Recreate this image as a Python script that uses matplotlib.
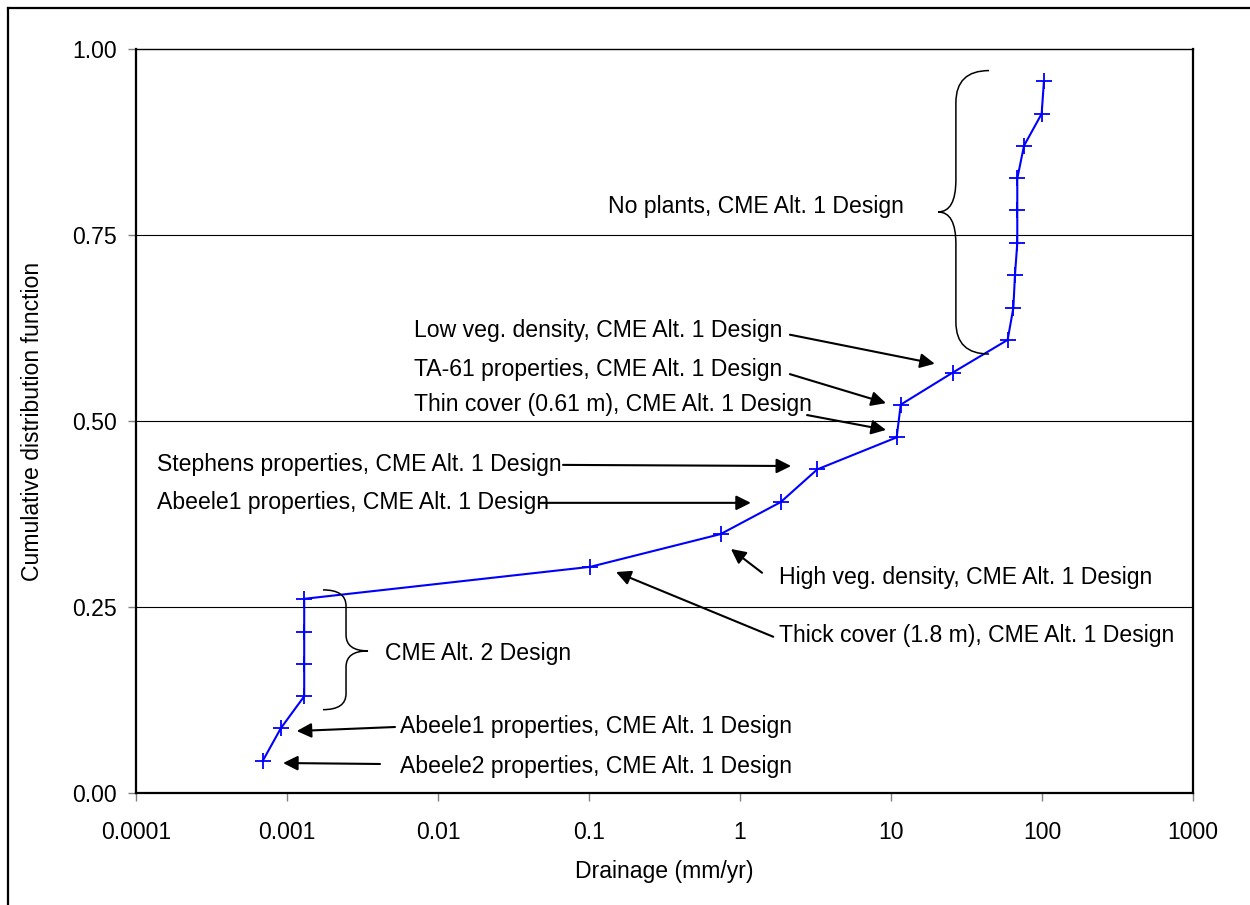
import numpy as np
import matplotlib
matplotlib.use("Agg")
import matplotlib.pyplot as plt
from matplotlib.path import Path
from matplotlib.patches import PathPatch
from matplotlib.lines import Line2D
from matplotlib.ticker import FixedLocator, FixedFormatter

plt.rcParams['font.family'] = ['Liberation Sans', 'DejaVu Sans']

# Drainage (mm/yr) for each simulation, sorted, and its cumulative probability
drainage = [0.00069, 0.00091, 0.0013, 0.0013, 0.0013, 0.0013, 0.102, 0.744,
            1.86, 3.25, 10.9, 11.6, 25.6, 59.2, 64.6, 66.2, 68.6, 68.6, 68.6,
            76.0, 99.5, 103.0]
cdf = [0.043, 0.087, 0.130, 0.174, 0.217, 0.261, 0.304, 0.348, 0.391, 0.435,
       0.478, 0.522, 0.565, 0.609, 0.652, 0.696, 0.739, 0.783, 0.826, 0.870,
       0.913, 0.957]

x_ticks = [0.0001, 0.001, 0.01, 0.1, 1, 10, 100, 1000]
x_tick_labels = ["0.0001", "0.001", "0.01", "0.1", "1", "10", "100", "1000"]
y_ticks = [0.0, 0.25, 0.5, 0.75, 1.0]
y_tick_labels = ["0.00", "0.25", "0.50", "0.75", "1.00"]

W, H, DPI = 1250, 905, 100
FS = 16.6

fig = plt.figure(figsize=(W / DPI, H / DPI), dpi=DPI)
ax = fig.add_axes([136 / W, (H - 793) / H, 1057 / W, 744 / H])

ax.set_xscale("log")
ax.set_xlim(1e-4, 1e3)
ax.set_ylim(0, 1)

for yv in y_ticks[1:-1]:
    ax.axhline(yv, color="black", lw=0.8, zorder=1)

ax.plot(drainage, cdf, color="#0000ff", lw=1.5, marker="+", ms=11, mew=1.3,
        zorder=3, clip_on=False)

ax.xaxis.set_major_locator(FixedLocator(x_ticks))
ax.xaxis.set_major_formatter(FixedFormatter(x_tick_labels))
ax.xaxis.set_minor_locator(FixedLocator([]))
ax.yaxis.set_major_locator(FixedLocator(y_ticks))
ax.yaxis.set_major_formatter(FixedFormatter(y_tick_labels))
ax.tick_params(axis="both", direction="out", length=6, width=1, color="#808080",
               labelsize=FS, pad=8)
ax.tick_params(axis="x", pad=14)

for side, lw in (("left", 1.6), ("bottom", 1.6), ("right", 1.6), ("top", 1.0)):
    ax.spines[side].set_linewidth(lw)
    ax.spines[side].set_color("black")

ax.set_xlabel("Drainage (mm/yr)", fontsize=FS, labelpad=12)
ax.set_ylabel("Cumulative distribution function", fontsize=FS, labelpad=20)

# Text labels with straight arrows: (label, text pos, arrow tail, arrow head)
notes = [
    ("Low veg. density, CME Alt. 1 Design", (0.00693, 0.621), (2.14, 0.616), (19.5, 0.577)),
    ("TA-61 properties, CME Alt. 1 Design", (0.00693, 0.569), (2.14, 0.563), (9.27, 0.524)),
    ("Thin cover (0.61 m), CME Alt. 1 Design", (0.00693, 0.522), (2.78, 0.508), (9.27, 0.488)),
    ("Stephens properties, CME Alt. 1 Design", (0.000138, 0.442), (0.0673, 0.441), (2.18, 0.4395)),
    ("Abeele1 properties, CME Alt. 1 Design", (0.000138, 0.390), (0.0473, 0.390), (1.18, 0.390)),
    ("High veg. density, CME Alt. 1 Design", (1.81, 0.289), (1.40, 0.296), (0.871, 0.328)),
    ("Thick cover (1.8 m), CME Alt. 1 Design", (1.81, 0.212), (1.66, 0.210), (0.151, 0.297)),
    ("Abeele1 properties, CME Alt. 1 Design", (0.0056, 0.090), (0.00519, 0.0887), (0.00116, 0.0833)),
    ("Abeele2 properties, CME Alt. 1 Design", (0.0056, 0.035), (0.00413, 0.039), (0.000942, 0.0403)),
]
for label, tpos, tail, head in notes:
    ax.text(tpos[0], tpos[1], label, fontsize=FS, ha="left", va="center", zorder=4)
    ax.annotate("", xy=head, xytext=tail,
                arrowprops=dict(arrowstyle="-|>", color="black", lw=1.5,
                                mutation_scale=22, shrinkA=0, shrinkB=0),
                zorder=4)

ax.text(0.134, 0.788, "No plants, CME Alt. 1 Design", fontsize=FS,
        ha="left", va="center", zorder=4)
ax.text(0.00446, 0.188, "CME Alt. 2 Design", fontsize=FS,
        ha="left", va="center", zorder=4)

fig.canvas.draw()


def brace(x_end, x_spine, x_tip, y_top, y_bot, y_tip, r):
    """Curly brace drawn in display space so the curls stay round on a log axis."""
    T = ax.transData
    xe, yt = T.transform((x_end, y_top))
    xs, yb = T.transform((x_spine, y_bot))
    xt, ym = T.transform((x_tip, y_tip))
    verts = [
        (xe, yt), (xs, yt), (xs, yt - r),
        (xs, ym + r),
        (xs, ym), (xt, ym),
        (xs, ym), (xs, ym - r),
        (xs, yb + r),
        (xs, yb), (xe, yb),
    ]
    codes = [Path.MOVETO, Path.CURVE3, Path.CURVE3,
             Path.LINETO,
             Path.CURVE3, Path.CURVE3,
             Path.CURVE3, Path.CURVE3,
             Path.LINETO,
             Path.CURVE3, Path.CURVE3]
    patch = PathPatch(Path(verts, codes), transform=None, fill=False,
                      edgecolor="black", lw=1.1, zorder=4)
    fig.add_artist(patch)


brace(44.6, 26.9, 20.5, 0.971, 0.590, 0.781, 32)
brace(0.00173, 0.00246, 0.00344, 0.273, 0.112, 0.191, 16)

# Outer chart frame
fig.add_artist(Line2D([8 / W, 8 / W], [0, 1 - 8 / H], transform=fig.transFigure,
                      color="black", lw=1.6))
fig.add_artist(Line2D([8 / W, 1], [1 - 8 / H, 1 - 8 / H], transform=fig.transFigure,
                      color="black", lw=1.6))

fig.savefig("out.png", dpi=DPI)
